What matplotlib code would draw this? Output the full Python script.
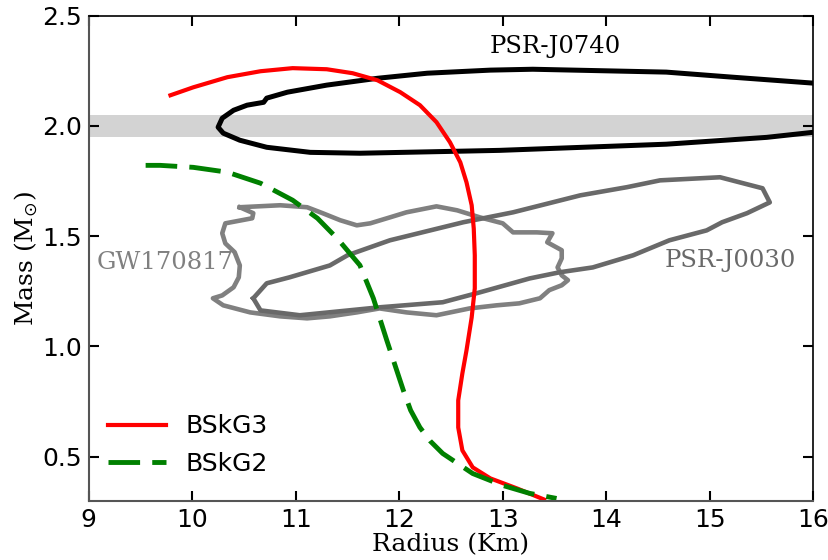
import numpy as np
import matplotlib
matplotlib.use("Agg")
import matplotlib.pyplot as plt

# mass-radius curves (radius km, mass Msun)
bskg3_r = [9.79, 10.01, 10.34, 10.66, 10.97, 11.30, 11.55, 11.79, 12.01, 12.20, 12.36, 12.49,
           12.59, 12.65, 12.70, 12.72, 12.73, 12.73, 12.70, 12.65, 12.61, 12.57, 12.57, 12.61,
           12.71, 12.88, 13.14, 13.40]
bskg3_m = [2.139, 2.175, 2.221, 2.248, 2.262, 2.257, 2.239, 2.207, 2.153, 2.094, 2.017, 1.926,
           1.835, 1.744, 1.640, 1.535, 1.413, 1.263, 1.131, 0.982, 0.877, 0.755, 0.632, 0.528,
           0.451, 0.401, 0.355, 0.305]

bskg2_r = [9.55, 9.69, 10.01, 10.34, 10.66, 10.97, 11.21, 11.40, 11.62, 11.75, 11.88, 12.04,
           12.11, 12.20, 12.30, 12.42, 12.71, 13.00, 13.26, 13.52]
bskg2_m = [1.821, 1.821, 1.812, 1.790, 1.740, 1.663, 1.581, 1.490, 1.368, 1.218, 1.027, 0.800,
           0.710, 0.632, 0.570, 0.514, 0.423, 0.369, 0.333, 0.310]

# observational contours
j0740_r = [16.00, 15.22, 14.58, 13.29, 12.88, 12.27, 11.79, 11.30, 10.92, 10.72, 10.69, 10.53,
           10.40, 10.29, 10.25, 10.30, 10.46, 10.72, 11.14, 11.62, 12.56, 12.97, 14.58, 15.55,
           16.00]
j0740_m = [2.194, 2.221, 2.244, 2.257, 2.253, 2.239, 2.216, 2.185, 2.153, 2.126, 2.107, 2.094,
           2.071, 2.035, 1.994, 1.967, 1.935, 1.903, 1.880, 1.876, 1.885, 1.889, 1.917, 1.948,
           1.971]

j0030_r = [10.59, 10.72, 10.94, 11.33, 11.50, 11.91, 12.62, 13.10, 13.75, 14.20, 14.52, 15.10,
           15.51, 15.58, 15.36, 15.12, 14.97, 14.61, 14.26, 13.87, 13.55, 13.26, 12.78, 12.42,
           11.81, 11.04, 10.66, 10.59]
j0030_m = [1.218, 1.286, 1.313, 1.367, 1.413, 1.481, 1.563, 1.608, 1.685, 1.722, 1.753, 1.767,
           1.717, 1.653, 1.604, 1.563, 1.526, 1.481, 1.413, 1.358, 1.336, 1.308, 1.245, 1.200,
           1.177, 1.141, 1.163, 1.218]

gw_r = [10.46, 10.85, 11.11, 11.26, 11.43, 11.59, 11.72, 11.91, 12.07, 12.36, 12.56, 12.78,
        13.00, 13.10, 13.33, 13.48, 13.43, 13.57, 13.57, 13.53, 13.57, 13.63, 13.57, 13.45,
        13.36, 13.16, 12.94, 12.68, 12.36, 12.07, 11.81, 11.59, 11.33, 11.11, 10.85, 10.56,
        10.30, 10.20, 10.29, 10.40, 10.45, 10.46, 10.41, 10.32, 10.29, 10.32, 10.58, 10.59, 10.46]
gw_m = [1.631, 1.640, 1.631, 1.604, 1.572, 1.549, 1.558, 1.585, 1.608, 1.635, 1.617, 1.585,
        1.558, 1.517, 1.517, 1.513, 1.472, 1.436, 1.399, 1.358, 1.322, 1.300, 1.277, 1.255,
        1.218, 1.195, 1.186, 1.172, 1.141, 1.154, 1.172, 1.154, 1.136, 1.127, 1.136, 1.154,
        1.186, 1.218, 1.231, 1.268, 1.313, 1.367, 1.427, 1.467, 1.513, 1.558, 1.581, 1.604, 1.631]

band_lo, band_hi = 1.95, 2.05

fig = plt.figure(figsize=(8.29, 5.6), dpi=100)
ax = fig.add_axes([0.107, 0.106, 0.874, 0.866])

ax.axhspan(band_lo, band_hi, color='lightgray', lw=0, zorder=0)
ax.plot(j0740_r, j0740_m, color='black', lw=3.6, solid_capstyle='butt', solid_joinstyle='round')
ax.plot(gw_r, gw_m, color='gray', lw=3.3, solid_joinstyle='round')
ax.plot(j0030_r, j0030_m, color='dimgray', lw=3.3, solid_joinstyle='round')
ax.plot(bskg3_r, bskg3_m, color='red', lw=3, solid_joinstyle='round', label='BSkG3')
ax.plot(bskg2_r, bskg2_m, color='green', lw=3.5, ls=(0, (6.5, 2.5)), label='BSkG2')

ax.text(13.51, 2.36, 'PSR-J0740', family='DejaVu Serif', fontsize=17.5, color='black',
        ha='center', va='center')
ax.text(15.20, 1.39, 'PSR-J0030', family='DejaVu Serif', fontsize=17.5, color='dimgray',
        ha='center', va='center')
ax.text(9.74, 1.38, 'GW170817', family='DejaVu Serif', fontsize=17.5, color='gray',
        ha='center', va='center')

ax.set_xlim(9, 16)
ax.set_ylim(0.3, 2.5)
ax.set_xticks(range(9, 17))
ax.set_yticks([0.5, 1.0, 1.5, 2.0, 2.5])
ax.tick_params(direction='in', top=True, right=True, length=7, width=1.5, labelsize=18, pad=5)
for s in ['left', 'bottom']:
    ax.spines[s].set_color('#555555')
    ax.spines[s].set_linewidth(1.5)
for s in ['top', 'right']:
    ax.spines[s].set_linewidth(1.2)

ax.set_xlabel('Radius (Km)', family='DejaVu Serif', fontsize=18, labelpad=1)
ax.set_ylabel(r'Mass (M$_{\odot}$)', family='DejaVu Serif', fontsize=18, labelpad=1)

ax.legend(loc='lower left', frameon=False, fontsize=18, handlelength=2.3, labelspacing=0.55,
          borderaxespad=0, bbox_to_anchor=(0.013, 0.03))

fig.savefig('out.png', dpi=100)
